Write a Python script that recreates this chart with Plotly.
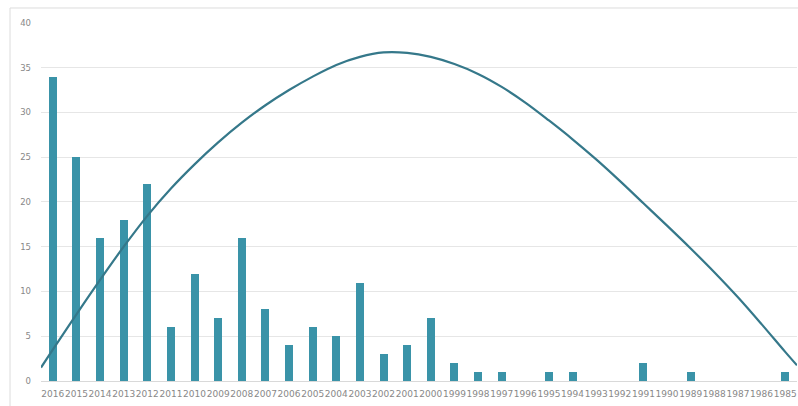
import plotly.graph_objects as go

# Publication counts per year, newest first
years = ["2016", "2015", "2014", "2013", "2012", "2011", "2010", "2009",
         "2008", "2007", "2006", "2005", "2004", "2003", "2002", "2001",
         "2000", "1999", "1998", "1997", "1996", "1995", "1994", "1993",
         "1992", "1991", "1990", "1989", "1988", "1987", "1986", "1985"]
counts = [34, 25, 16, 18, 22, 6, 12, 7, 16, 8, 4, 6, 5, 11, 3, 4,
          7, 2, 1, 1, 0, 1, 1, 0, 0, 2, 0, 1, 0, 0, 0, 1]

# Polynomial trend line, sampled at the category positions plus the plot edges
trend_pos = [-0.5] + list(range(len(years))) + [len(years) - 0.5]
trend_values = [1.5, 3.5, 7.45, 11.3, 15.0, 18.45, 21.5, 24.2, 26.65, 28.85,
                30.8, 32.5, 34.0, 35.3, 36.2, 36.7, 36.65, 36.2, 35.4, 34.3,
                32.85, 31.1, 29.1, 27.0, 24.75, 22.35, 19.85, 17.35, 14.8, 12.15,
                9.35, 6.35, 3.25, 1.75]

positions = list(range(len(years)))

fig = go.Figure()
fig.add_trace(go.Bar(
    x=positions, y=counts, width=0.34,
    marker=dict(color="#3a93a8", line=dict(width=0)),
    hoverinfo="x+y", showlegend=False,
))
fig.add_trace(go.Scatter(
    x=trend_pos, y=trend_values, mode="lines",
    line=dict(color="#35788a", width=2.2, shape="spline", smoothing=1.0),
    showlegend=False, hoverinfo="skip", cliponaxis=False,
))

fig.update_layout(
    width=798, height=406,
    margin=dict(l=41, r=1, t=22, b=25),
    paper_bgcolor="white", plot_bgcolor="white",
    bargap=0,
    font=dict(family="DejaVu Sans, Arial, sans-serif", color="#888888"),
    shapes=[dict(
        type="rect", xref="paper", yref="paper",
        x0=-0.041, x1=1.02, y0=-0.2, y1=1.039,
        line=dict(color="#dcdcdc", width=1), fillcolor="rgba(0,0,0,0)",
        layer="below",
    )],
)
fig.update_xaxes(
    range=[-0.5, len(years) - 0.5],
    tickmode="array", tickvals=positions, ticktext=years,
    tickangle=0, tickfont=dict(size=9, color="#888888"),
    showgrid=False, zeroline=False, showline=False,
    ticks="", ticklabelstandoff=6,
)
fig.update_yaxes(
    range=[0, 40.1], dtick=5, tick0=0,
    tickfont=dict(size=8.5, color="#888888"),
    showgrid=True, gridcolor="#e6e6e6", gridwidth=1,
    zeroline=True, zerolinecolor="#d9d9d9", zerolinewidth=1,
    showline=False, ticks="", ticklabelstandoff=9,
)

fig.write_html("out.html")
